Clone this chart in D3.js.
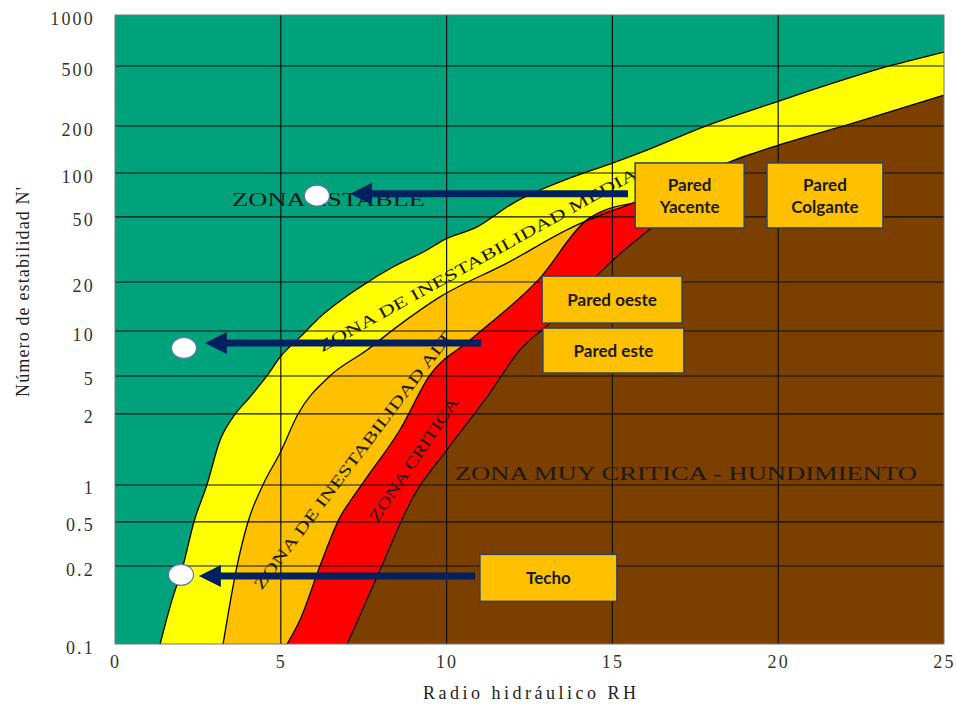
<!DOCTYPE html>
<html>
<head>
<meta charset="utf-8">
<script src="https://cdn.jsdelivr.net/npm/d3@7"></script>
<style>
  body { margin: 0; background: #fff; }
  svg { display: block; }
</style>
</head>
<body>
<svg id="chart" width="957" height="704"></svg>
<script>
// Ábaco de estabilidad: radio hidráulico RH frente al número de estabilidad N'

// ---- ejes ----
const rhTicks = [0, 5, 10, 15, 20, 25];
const nTicks = [0.1, 0.2, 0.5, 1, 2, 5, 10, 20, 50, 100, 200, 500, 1000];
const nTickLabels = ["0.1", "0.2", "0.5", "1", "2", "5", "10", "20", "50", "100", "200", "500", "1000"];

// ---- límites entre zonas (RH, N') ----
// zona estable / inestabilidad media
const limiteEstableRH = [1.36, 1.72, 2.05, 2.38, 2.77, 3.17, 3.56, 4.07, 4.58, 4.98, 5.58, 6.09, 7.39, 8.38, 9.41, 9.9, 10.92, 12.0, 13.81, 15.02, 16.04, 17.73, 19.84, 23.46, 25];
const limiteEstableN  = [0.1, 0.148, 0.2, 0.5, 1.0, 1.55, 1.94, 3.01, 5.0, 6.7, 9.1, 11.7, 18.6, 24.7, 31.4, 36.1, 43.5, 62, 94, 116, 140, 197, 284, 507, 605];
// inestabilidad media / inestabilidad alta (y hundimiento a la derecha)
const limiteMediaRH = [3.26, 3.68, 4.01, 4.46, 4.98, 5.52, 6.48, 7.6, 8.5, 9.8, 11.82, 13.81, 15.62, 18.46, 19.84, 22.26, 25];
const limiteMediaN  = [0.1, 0.2, 0.5, 1, 1.37, 2, 5, 7.46, 10.6, 16.2, 26.1, 43.5, 62.3, 116, 147, 209, 321];
// inestabilidad alta / zona crítica
const limiteAltaRH = [5.19, 5.58, 6.18, 6.79, 7.18, 7.6, 8.59, 9.5, 10.71, 12.82, 14.23, 15.62];
const limiteAltaN  = [0.1, 0.124, 0.2, 0.55, 0.8, 1.08, 1.71, 5.08, 8.7, 21.2, 48, 62.3];
// zona crítica / zona muy crítica
const limiteCriticaRH = [7.0, 7.33, 7.99, 8.99, 10.01, 11.22, 12.21, 13.12, 15.02, 16.22];
const limiteCriticaN  = [0.1, 0.124, 0.193, 0.8, 1.41, 3.02, 7.46, 11.2, 27.3, 43.5];

// ---- casos evaluados ----
const puntosRH = [6.09, 2.08, 1.99];
const puntosN  = [70, 7.7, 0.185];
const flechaDesdeRH = [15.47, 11.04, 10.86];
const flechaHastaRH = [7.09, 2.71, 2.53];
const flechaN = [72, 8.3, 0.183];

// ---- recuadros ----
const cajasTexto = [["Pared", "Yacente"], ["Pared", "Colgante"], ["Pared oeste"], ["Pared este"], ["Techo"]];
const cajasRH = [17.33, 21.41, 14.99, 15.03, 13.07];
const cajasN  = [70.2, 70.2, 15.6, 7.4, 0.18];

// ---- rótulos de zona ----
const zonasTexto = ["ZONA ESTABLE", "ZONA DE INESTABILIDAD MEDIA", "ZONA DE INESTABILIDAD ALT", "ZONA CRITICA", "ZONA MUY CRITICA - HUNDIMIENTO"];
const zonasRH = [3.53, 6.24, 4.42, 7.91, 10.25];
const zonasN  = [59.4, 7.2, 0.161, 0.49, 1.05];

// ---- maquetación ----
const M = { left: 115, top: 15, right: 13, bottom: 60 };
const W = 957 - M.left - M.right;
const H = 704 - M.top - M.bottom;
// posición relativa (desde abajo) de cada línea de la rejilla de N'
const nTickFrac = [0, 0.124, 0.194, 0.2528, 0.3657, 0.4261, 0.4976, 0.5755, 0.6789, 0.7488, 0.8235, 0.9189, 1];
const zonasGiro = [0, -29, -53, -56, 0];
const zonasLargo = [193, 362, 318, 146, 462];
const zonasTam = [18, 16, 16, 16, 19];
const cajaAncho = [109, 116, 140, 141, 137];
const cajaAlto = [65, 65, 47, 45, 47];

const COL = {
  verde: "#00A27B", amarillo: "#FFFF00", naranja: "#FFC000",
  rojo: "#FF0000", marron: "#7B3F00", azul: "#002060"
};

const svg = d3.select("#chart");
const g = svg.append("g").attr("transform", `translate(${M.left},${M.top})`);

const x = d3.scaleLinear().domain([0, 25]).range([0, W]);
const yLog = d3.scaleLinear()
  .domain(nTicks.map(Math.log10))
  .range(nTickFrac.map(f => H * (1 - f)));
const y = n => yLog(Math.log10(n));

const pares = (rh, n) => rh.map((v, i) => [v, n[i]]);
const estable = pares(limiteEstableRH, limiteEstableN);
const media = pares(limiteMediaRH, limiteMediaN);
const tramoFinal = media.filter(d => d[0] > 16);
const alta = pares(limiteAltaRH, limiteAltaN);
const critica = pares(limiteCriticaRH, limiteCriticaN);

const area = d3.area().x(d => x(d[0])).y0(H).y1(d => y(d[1])).curve(d3.curveMonotoneX);
const linea = d3.line().x(d => x(d[0])).y(d => y(d[1])).curve(d3.curveMonotoneX);

// fondo: zona estable
g.append("rect").attr("width", W).attr("height", H).attr("fill", COL.verde);

// zonas, de la más estable a la más crítica
const capas = [
  { datos: estable, color: COL.amarillo },
  { datos: media, color: COL.naranja },
  { datos: alta.concat(tramoFinal), color: COL.rojo },
  { datos: critica.concat(tramoFinal), color: COL.marron }
];
g.selectAll("path.zona").data(capas).join("path")
  .attr("class", "zona")
  .attr("d", d => area(d.datos))
  .attr("fill", d => d.color);

// rejilla
g.append("g").selectAll("line").data(rhTicks.slice(1, -1)).join("line")
  .attr("x1", d => x(d)).attr("x2", d => x(d))
  .attr("y1", 0).attr("y2", H)
  .attr("stroke", "#111").attr("stroke-width", 1.2);
g.append("g").selectAll("line").data(nTicks.slice(1, -1)).join("line")
  .attr("x1", 0).attr("x2", W)
  .attr("y1", d => y(d)).attr("y2", d => y(d))
  .attr("stroke", "#111").attr("stroke-width", 1.2);

// bordes de zona
[estable, media, alta, critica].forEach(d => {
  g.append("path").attr("d", linea(d))
    .attr("fill", "none").attr("stroke", "#000").attr("stroke-width", 1.3);
});

// marco
g.append("rect").attr("width", W).attr("height", H)
  .attr("fill", "none").attr("stroke", "#777").attr("stroke-width", 1);

// ejes
const ejeY = g.append("g")
  .call(d3.axisLeft(yLog).tickValues(nTicks.map(Math.log10))
    .tickFormat((v, i) => nTickLabels[i]).tickSize(0).tickPadding(20));
const ejeX = g.append("g").attr("transform", `translate(0,${H})`)
  .call(d3.axisBottom(x).tickValues(rhTicks).tickFormat(d3.format("d")).tickSize(0).tickPadding(11));
[ejeY, ejeX].forEach(e => {
  e.attr("font-family", "Liberation Serif, serif").attr("font-size", 18);
  e.select(".domain").remove();
  e.selectAll("text")
    .attr("letter-spacing", 2.2)
    .attr("fill", "#333");
});
ejeY.selectAll("text").attr("dy", "0.5em");

// títulos de ejes
svg.append("text")
  .attr("x", M.left + W / 2).attr("y", 699)
  .attr("text-anchor", "middle")
  .attr("font-family", "Liberation Serif, serif").attr("font-size", 18)
  .attr("fill", "#222")
  .attr("textLength", 213).attr("lengthAdjust", "spacing")
  .text("Radio hidráulico RH");
svg.append("text")
  .attr("transform", "translate(29,292) rotate(-90)")
  .attr("text-anchor", "middle")
  .attr("font-family", "Liberation Serif, serif").attr("font-size", 18)
  .attr("fill", "#222")
  .attr("textLength", 210).attr("lengthAdjust", "spacing")
  .text("Número de estabilidad N'");

// rótulos de zona
zonasTexto.forEach((t, i) => {
  g.append("text")
    .attr("transform", `translate(${x(zonasRH[i])},${y(zonasN[i])}) rotate(${zonasGiro[i]})`)
    .attr("font-family", "Liberation Serif, serif")
    .attr("font-size", zonasTam[i])
    .attr("fill", "#1a1a1a")
    .attr("textLength", zonasLargo[i]).attr("lengthAdjust", "spacingAndGlyphs")
    .text(t);
});

// flechas
const cabezaLargo = 22, cabezaMedio = 11;
flechaN.forEach((n, i) => {
  const yy = y(n), x0 = x(flechaDesdeRH[i]), x1 = x(flechaHastaRH[i]);
  g.append("line")
    .attr("x1", x0).attr("x2", x1 + cabezaLargo - 1)
    .attr("y1", yy).attr("y2", yy)
    .attr("stroke", COL.azul).attr("stroke-width", 7);
  g.append("path")
    .attr("d", `M${x1},${yy} L${x1 + cabezaLargo},${yy - cabezaMedio} L${x1 + cabezaLargo},${yy + cabezaMedio} Z`)
    .attr("fill", COL.azul);
});

// puntos
g.selectAll("ellipse.punto").data(puntosRH).join("ellipse")
  .attr("class", "punto")
  .attr("cx", d => x(d)).attr("cy", (d, i) => y(puntosN[i]))
  .attr("rx", 12.5).attr("ry", 10.5)
  .attr("fill", "#fff").attr("stroke", "#5a79b0").attr("stroke-width", 1.2);

// recuadros
cajasTexto.forEach((lineas, i) => {
  const cx = x(cajasRH[i]), cy = y(cajasN[i]);
  const w = cajaAncho[i], h = cajaAlto[i];
  g.append("rect")
    .attr("x", cx - w / 2).attr("y", cy - h / 2)
    .attr("width", w).attr("height", h)
    .attr("fill", COL.naranja).attr("stroke", "#2E4063").attr("stroke-width", 1.5);
  const txt = g.append("text")
    .attr("text-anchor", "middle")
    .attr("font-family", "Lato, sans-serif").attr("font-weight", "bold")
    .attr("font-size", 17).attr("fill", "#1a1a1a");
  const paso = 22;
  lineas.forEach((l, k) => {
    txt.append("tspan")
      .attr("x", cx)
      .attr("y", cy + (k - (lineas.length - 1) / 2) * paso)
      .attr("dy", "0.36em")
      .text(l);
  });
});
</script>
</body>
</html>
